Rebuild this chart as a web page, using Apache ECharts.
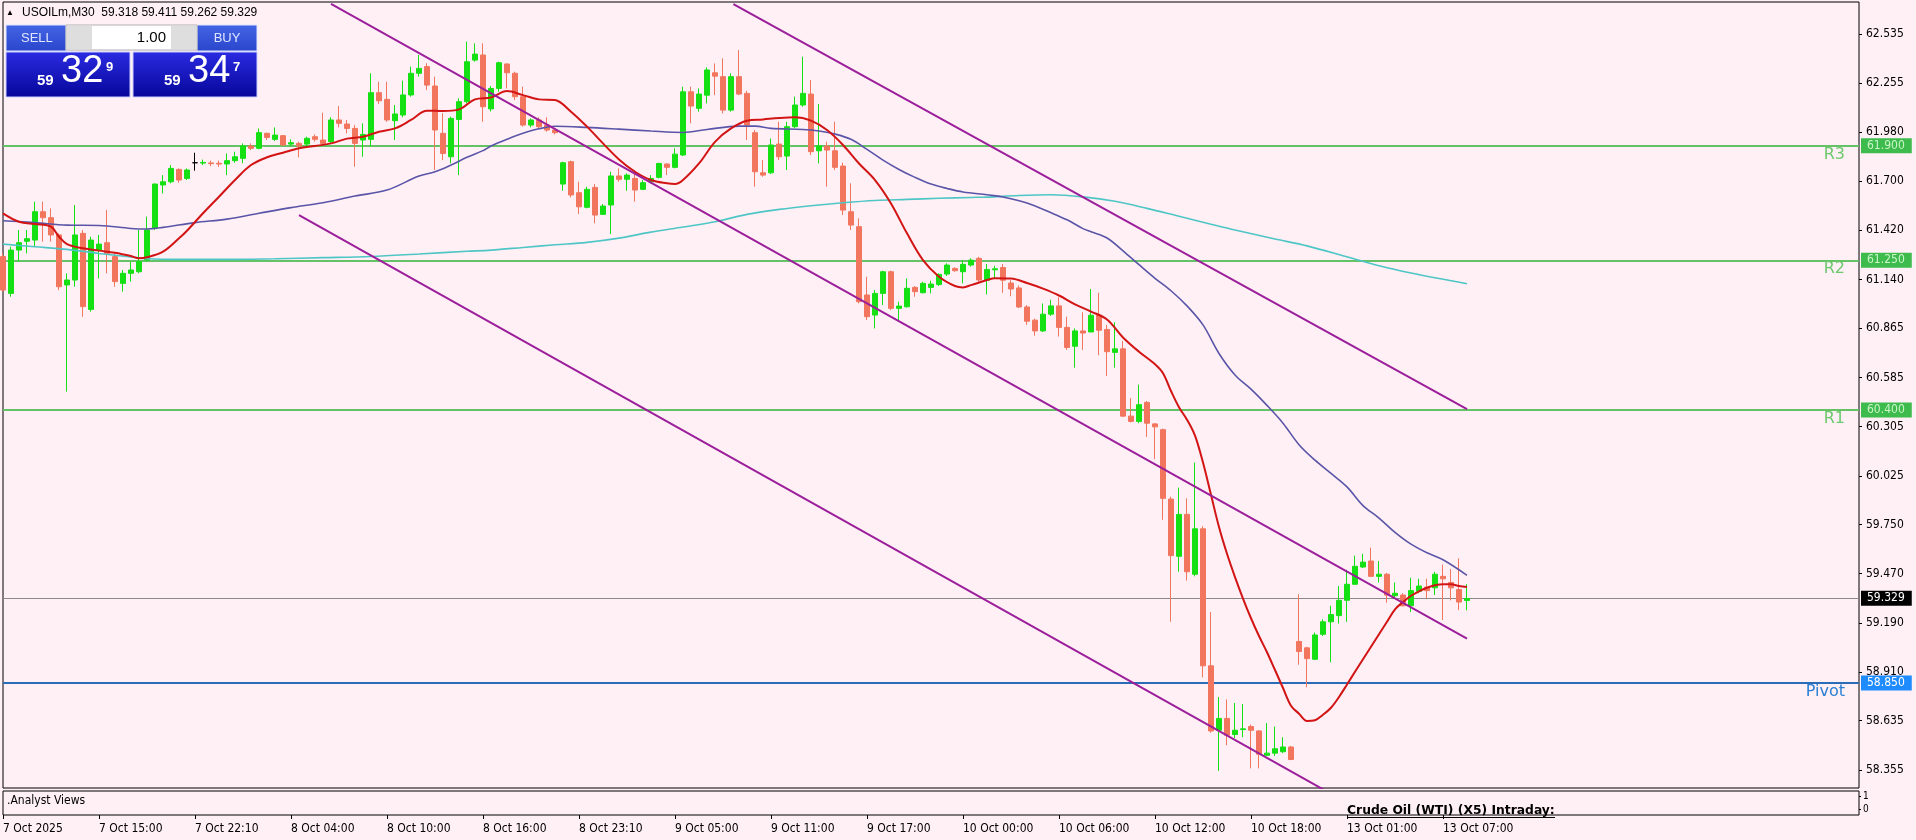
<!DOCTYPE html>
<html><head><meta charset="utf-8">
<script src="https://cdn.jsdelivr.net/npm/echarts@6/dist/echarts.min.js"></script>
<style>html,body{margin:0;padding:0;background:#fff0f5;overflow:hidden}#chart{width:1916px;height:840px}</style>
</head><body><div id="chart"></div>
<script>
// ---------------- DATA ----------------
const symbolName = 'USOILm,M30';
const bidPrice = 59.329;
const askPrice = 59.347;
const lotSize = '1.00';
const timeLabels = ['7 Oct 2025','7 Oct 15:00','7 Oct 22:10','8 Oct 04:00','8 Oct 10:00','8 Oct 16:00','8 Oct 23:10','9 Oct 05:00','9 Oct 11:00','9 Oct 17:00','10 Oct 00:00','10 Oct 06:00','10 Oct 12:00','10 Oct 18:00','13 Oct 01:00','13 Oct 07:00'];
const yTickValues = [62.535,62.255,61.980,61.700,61.420,61.140,60.865,60.585,60.305,60.025,59.750,59.470,59.190,58.910,58.635,58.355];
const levelNames = ['R3','R2','R1','Pivot'];
const levelValues = [61.900,61.250,60.400,58.850];
const emptyBarsRight = 49;

// bars: [open, high, low, close]
const barsOct7 = [
[61.271,61.289,61.072,61.081],[61.062,61.327,61.043,61.308],[61.308,61.422,61.242,61.350],[61.358,61.422,61.289,61.373],
[61.365,61.583,61.327,61.526],[61.526,61.583,61.356,61.492],[61.492,61.545,61.356,61.394],[61.394,61.403,61.081,61.100],
[61.110,61.176,60.504,61.138],[61.138,61.564,61.100,61.394],[61.403,61.422,60.930,60.987],[60.971,61.384,60.958,61.365],
[61.308,61.394,61.147,61.342],[61.350,61.536,61.176,61.289],[61.271,61.289,61.100,61.129],[61.119,61.195,61.072,61.176],
[61.176,61.242,61.129,61.195],[61.185,61.422,61.176,61.242],[61.252,61.498,61.242,61.422],[61.431,61.687,61.422,61.683],
[61.678,61.734,61.630,61.696],[61.696,61.791,61.687,61.772],[61.766,61.772,61.691,61.706],[61.715,61.772,61.706,61.763],
[61.804,61.861,61.759,61.804],[61.802,61.822,61.791,61.806],[61.803,61.816,61.785,61.799],[61.801,61.816,61.781,61.797]
];
const barsOct8 = [
[61.797,61.857,61.734,61.816],[61.816,61.867,61.804,61.838],[61.829,61.914,61.801,61.899],[61.899,61.914,61.876,61.886],
[61.886,61.999,61.880,61.975],[61.971,61.975,61.933,61.948],[61.937,62.005,61.927,61.961],[61.958,61.961,61.899,61.905],
[61.910,61.937,61.899,61.918],[61.914,61.924,61.835,61.899],[61.910,61.952,61.895,61.943],[61.952,61.965,61.924,61.937],
[61.933,62.088,61.905,61.914],[61.924,62.062,61.914,62.047],[62.047,62.126,62.005,62.028],[62.024,62.047,61.971,61.999],
[61.999,62.018,61.782,61.914],[61.933,62.028,61.838,61.965],[61.937,62.312,61.895,62.202],[62.202,62.264,62.138,62.156],
[62.164,62.264,62.037,62.047],[62.043,62.132,61.933,62.081],[62.075,62.270,62.062,62.189],[62.189,62.350,62.179,62.312],
[62.312,62.416,62.293,62.340],[62.350,62.369,62.217,62.245],[62.240,62.293,61.763,61.990],[61.971,62.085,61.819,61.857],
[61.838,62.066,61.801,62.056],[62.050,62.170,61.734,62.151],[62.151,62.492,62.141,62.378],[62.387,62.482,62.378,62.421],
[62.416,62.482,62.037,62.122],[62.110,62.240,62.095,62.226],[62.226,62.378,62.207,62.372],[62.365,62.368,62.226,62.315],
[62.312,62.321,62.160,62.179],[62.179,62.236,62.009,62.018],[62.018,62.056,62.005,62.047],[62.047,62.062,61.999,62.009],
[62.018,62.062,61.980,61.990],[61.990,61.999,61.965,61.975],[61.683,61.810,61.645,61.804],[61.810,61.816,61.607,61.621],
[61.634,61.696,61.513,61.554],[61.551,61.668,61.545,61.653]
];
const barsOct9 = [
[61.664,61.683,61.460,61.507],[61.511,61.570,61.507,61.558],[61.564,61.753,61.399,61.729],[61.729,61.772,61.696,61.710],
[61.710,61.744,61.645,61.734],[61.715,61.763,61.583,61.649],[61.653,61.706,61.649,61.691],[61.696,61.734,61.687,61.715],
[61.721,61.804,61.715,61.800],[61.797,61.800,61.734,61.778],[61.778,61.886,61.772,61.853],[61.848,62.236,61.842,62.207],
[62.207,62.236,62.028,62.126],[62.113,62.226,62.094,62.194],[62.188,62.346,62.141,62.331],[62.315,62.368,62.188,62.296],
[62.293,62.397,62.084,62.103],[62.103,62.312,62.094,62.293],[62.293,62.444,62.188,62.194],[62.198,62.213,61.933,62.018],
[61.975,61.990,61.668,61.753],[61.747,61.819,61.725,61.734],[61.747,61.942,61.740,61.905],[61.910,62.037,61.819,61.838],
[61.842,62.037,61.763,62.009],[62.009,62.179,62.000,62.132],[62.132,62.406,62.122,62.198],[62.194,62.274,61.848,61.867],
[61.872,62.137,61.800,61.899],[61.899,61.923,61.668,61.876],[61.872,62.037,61.763,61.778],[61.785,61.804,61.507,61.535],
[61.526,61.687,61.422,61.450],[61.441,61.488,61.005,61.015],[61.053,61.157,60.911,60.930],[60.939,61.081,60.863,61.062],
[61.062,61.191,60.996,61.185],[61.185,61.191,60.967,60.977],[60.977,61.015,60.911,60.990],[60.986,61.147,60.982,61.091],
[61.096,61.104,61.043,61.072],[61.066,61.128,61.062,61.119],[61.096,61.134,61.062,61.115],[61.113,61.176,61.104,61.170],
[61.172,61.233,61.161,61.223],[61.204,61.210,61.185,61.191]
];
const barsOct10 = [
[61.185,61.251,61.119,61.227],[61.223,61.261,61.214,61.251],[61.261,61.270,61.128,61.138],[61.137,61.229,61.056,61.198],
[61.196,61.219,61.148,61.202],[61.209,61.229,61.066,61.137],[61.121,61.137,61.046,61.087],[61.093,61.107,60.979,60.985],
[60.985,60.995,60.883,60.904],[60.910,60.918,60.822,60.849],[60.849,61.005,60.843,60.944],[60.944,61.026,60.934,60.991],
[60.991,61.040,60.817,60.869],[60.869,60.930,60.741,60.755],[60.762,60.863,60.640,60.849],[60.849,60.955,60.741,60.837],
[60.843,61.087,60.843,60.938],[60.938,61.066,60.711,60.853],[60.857,60.883,60.593,60.731],[60.727,60.898,60.640,60.747],
[60.747,60.792,60.361,60.365],[60.365,60.467,60.329,60.335],[60.335,60.544,60.325,60.430],[60.443,60.451,60.247,60.325],
[60.321,60.325,60.121,60.304],[60.288,60.294,59.776,59.898],[59.894,59.908,59.197,59.573],[59.569,59.959,59.481,59.807],
[59.807,59.898,59.431,59.481],[59.467,60.101,59.455,59.725],[59.725,59.740,58.882,58.947],[58.947,59.252,58.567,58.577],
[58.581,58.770,58.350,58.648],[58.648,58.756,58.496,58.553],[58.557,58.736,58.537,58.581],[58.585,58.730,58.541,58.589],
[58.602,58.614,58.364,58.581],[58.577,58.581,58.364,58.445],[58.439,58.622,58.435,58.451],[58.451,58.602,58.435,58.476],
[58.459,58.541,58.451,58.486],[58.486,58.492,58.411,58.415]
];
const barsOct13 = [
[59.085,59.353,58.953,59.028],[59.049,59.055,58.825,58.988],[58.984,59.136,58.980,59.122],[59.126,59.211,59.116,59.197],
[59.197,59.288,58.967,59.238],[59.232,59.400,59.187,59.319],[59.319,59.492,59.197,59.410],[59.410,59.573,59.406,59.512],
[59.508,59.583,59.502,59.536],[59.542,59.618,59.451,59.455],[59.455,59.542,59.420,59.467],[59.467,59.475,59.305,59.349],
[59.345,59.420,59.329,59.359],[59.349,59.359,59.284,59.288],[59.288,59.447,59.252,59.374],[59.370,59.441,59.359,59.400],
[59.394,59.441,59.329,59.374],[59.390,59.481,59.349,59.467],[59.455,59.522,59.207,59.441],[59.420,59.496,59.319,59.390],
[59.380,59.557,59.264,59.309],[59.318,59.411,59.262,59.329]
];

// moving averages: [bar index, price]
const maFast = [[0,61.517],[2,61.469],[4,61.456],[6,61.441],[7,61.384],[8,61.342],[10,61.318],[12,61.305],[14,61.293],[16,61.274],[17,61.261],[18,61.267],[20,61.299],[22,61.375],[23,61.418],[25,61.517],[27,61.611],[29,61.706],[31,61.791],[33,61.835],[35,61.861],[37,61.886],[39,61.899],[41,61.914],[43,61.941],[45,61.952],[47,61.980],[49,61.999],[51,62.047],[53,62.100],[55,62.098],[57,62.107],[59,62.164],[61,62.175],[63,62.211],[65,62.188],[67,62.164],[69,62.160],[71,62.094],[73,62.009],[75,61.914],[77,61.823],[79,61.753],[81,61.706],[83,61.687],[84,61.683],[85,61.706],[87,61.800],[89,61.923],[91,61.999],[93,62.043],[95,62.050],[97,62.058],[99,62.062],[101,62.043],[103,61.990],[105,61.905],[107,61.800],[109,61.706],[111,61.573],[113,61.403],[115,61.251],[117,61.157],[119,61.104],[120,61.096],[121,61.109],[123,61.138],[124,61.148],[126,61.146],[128,61.121],[130,61.089],[132,61.050],[134,61.000],[136,60.959],[138,60.914],[140,60.812],[142,60.731],[144,60.660],[145,60.609],[146,60.508],[147,60.416],[148,60.345],[149,60.254],[150,60.101],[151,59.918],[152,59.735],[153,59.583],[154,59.451],[155,59.329],[156,59.217],[157,59.116],[158,59.024],[159,58.923],[160,58.821],[161,58.720],[162,58.675],[163,58.634],[164,58.638],[165,58.669],[166,58.709],[167,58.770],[168,58.841],[169,58.913],[170,58.984],[171,59.055],[172,59.126],[173,59.197],[174,59.268],[175,59.309],[176,59.345],[177,59.370],[178,59.390],[179,59.404],[180,59.410],[181,59.410],[182,59.400],[183,59.394]];
const maMid = [[0,61.475],[4,61.464],[8,61.450],[12,61.448],[16,61.431],[18,61.428],[20,61.437],[24,61.464],[28,61.484],[32,61.517],[36,61.549],[40,61.577],[44,61.615],[48,61.649],[52,61.729],[54,61.753],[56,61.791],[58,61.835],[60,61.873],[61,61.899],[63,61.937],[65,61.971],[67,61.997],[69,62.011],[73,62.005],[77,61.995],[81,61.984],[85,61.976],[88,61.993],[92,62.012],[94,62.012],[96,61.999],[100,61.993],[102,61.984],[104,61.967],[106,61.937],[108,61.880],[110,61.819],[112,61.766],[114,61.721],[116,61.683],[118,61.658],[120,61.638],[123,61.622],[125,61.610],[128,61.575],[131,61.520],[133,61.480],[135,61.430],[136,61.412],[138,61.377],[140,61.304],[142,61.225],[144,61.148],[146,61.077],[148,60.991],[150,60.883],[152,60.721],[154,60.599],[156,60.518],[158,60.426],[160,60.325],[162,60.203],[164,60.115],[166,60.040],[168,59.963],[170,59.857],[172,59.786],[174,59.705],[176,59.638],[178,59.589],[180,59.549],[183,59.461]];
const maSlow = [[0,61.342],[4,61.327],[8,61.312],[12,61.289],[16,61.269],[18,61.259],[22,61.255],[28,61.255],[34,61.259],[40,61.265],[46,61.272],[52,61.286],[58,61.301],[61,61.308],[65,61.323],[69,61.338],[73,61.352],[77,61.376],[81,61.410],[85,61.439],[89,61.469],[93,61.511],[97,61.539],[101,61.560],[105,61.577],[109,61.590],[113,61.596],[117,61.602],[121,61.607],[123,61.609],[127,61.618],[131,61.622],[135,61.610],[139,61.585],[143,61.545],[147,61.500],[151,61.455],[154,61.422],[159,61.371],[163,61.332],[168,61.270],[172,61.219],[176,61.178],[183,61.117]];

// channel trend lines: [bar index, price] end points
const channelUpper = [[91.3,62.705],[183,60.405]];
const channelMiddle = [[41,62.706],[183,59.101]];
const channelLower = [[37,61.507],[183,57.787]];

// ---------------- BUILD ----------------
const Y_MIN = 58.253, Y_MAX = 62.717;
const FONT = 'Liberation Sans, Arial, sans-serif';
const AXFONT = '"DejaVu Sans Condensed", "Liberation Sans", sans-serif';
const BULL = '#14e014', BEAR = '#f2755d';
const bars = [].concat(barsOct7, barsOct8, barsOct9, barsOct10, barsOct13);
const N = bars.length + emptyBarsRight;
const cats = Array.from({length: N}, (_, i) => String(i));
const candleData = bars.map(b => {
  const item = {value: [b[0], b[3], b[2], b[1]]};
  if (b[0] === b[3]) item.itemStyle = {color:'#000', color0:'#000', borderColor:'#000', borderColor0:'#000'};
  return item;
});
const last = bars[bars.length - 1];
const lastClose = last[3];

const markData = [];
levelNames.forEach((name, k) => {
  const v = levelValues[k];
  const piv = name === 'Pivot';
  const lc = piv ? '#2b6cb8' : '#5dbf5d';
  const lw = piv ? 2 : 1.5;
  markData.push({yAxis: v, lineStyle: {color: lc, width: lw, type: 'solid'},
    label: {show: true, position: 'end', distance: 2, formatter: v.toFixed(3),
      backgroundColor: piv ? '#1e8cff' : '#3dbb4c', color: piv ? '#ffffff' : '#c9f5c9',
      padding: [2, 7, 1, 6], fontSize: 12, fontFamily: AXFONT}});
  markData.push({yAxis: v, lineStyle: {color: lc, width: lw, type: 'solid'},
    label: {show: true, position: 'insideEndBottom', distance: [14, 1], formatter: name,
      color: piv ? '#2a7fd4' : '#6cc86c', fontSize: 16, fontFamily: '"DejaVu Sans", sans-serif'}});
});
markData.push({yAxis: lastClose, lineStyle: {color: '#8a8a8a', width: 1, type: 'solid'},
  label: {show: true, position: 'end', distance: 2, formatter: lastClose.toFixed(3),
    backgroundColor: '#000', color: '#fff', padding: [2, 7, 1, 6], fontSize: 12, fontFamily: AXFONT}});

function maSeries(data, color, width) {
  return {type: 'line', xAxisIndex: 1, yAxisIndex: 0, data: data, showSymbol: false, smooth: 0.35,
    lineStyle: {color: color, width: width}, silent: true, z: 4, clip: true};
}
function trendSeries(data) {
  return {type: 'line', xAxisIndex: 1, yAxisIndex: 0, data: data, showSymbol: false,
    lineStyle: {color: '#9b1e9b', width: 2}, silent: true, z: 5, clip: true};
}

const bidStr = bidPrice.toFixed(3), askStr = askPrice.toFixed(3);
function txt(x, y, s, size, color, opts) {
  opts = opts || {};
  return {type: 'text', x: x, y: y, z: 100, silent: true, style: {
    text: s, fill: color, fontSize: size, fontFamily: opts.family || FONT, fontWeight: opts.weight || 'normal',
    align: opts.align || 'left', textAlign: opts.align || 'left',
    verticalAlign: opts.va || 'middle', textVerticalAlign: opts.va || 'middle'}};
}
function grad(c1, c2) {
  return new echarts.graphic.LinearGradient(0, 0, 0, 1, [{offset: 0, color: c1}, {offset: 1, color: c2}]);
}
// sub-window caption: fit bold DejaVu Sans to the caption width seen in the reference
const subTitle = 'Crude Oil (WTI) (X5) Intraday:';
const SUBFONT = '"DejaVu Sans", "Liberation Sans", sans-serif';
const SUB_TARGET_W = 208;
const mctx = document.createElement('canvas').getContext('2d');
mctx.font = 'bold 12px "DejaVu Sans", "Liberation Sans", sans-serif';
const subSize = Math.min(13, Math.max(10, 12 * SUB_TARGET_W / mctx.measureText(subTitle).width));
mctx.font = 'bold ' + subSize + 'px "DejaVu Sans", "Liberation Sans", sans-serif';
const subW = Math.round(mctx.measureText(subTitle).width);

const graphics = [
  txt(6, 13, '▲', 8, '#000'),
  txt(22, 13, symbolName + '  ' + [last[0], last[1], last[2], last[3]].map(v => v.toFixed(3)).join(' '), 12, '#000'),
  // top buttons
  {type:'rect', z:100, shape:{x:6, y:25, width:60, height:26}, style:{fill: grad('#4464e4','#2a46cc'), stroke:'#dfe6ff', lineWidth:1}},
  {type:'rect', z:100, shape:{x:197, y:25, width:60, height:26}, style:{fill: grad('#4464e4','#2a46cc'), stroke:'#dfe6ff', lineWidth:1}},
  {type:'rect', z:100, shape:{x:66, y:25, width:131, height:25}, style:{fill:'#ffffff', stroke:'#b0b0b0', lineWidth:1}},
  {type:'rect', z:101, shape:{x:67, y:26, width:25, height:23}, style:{fill:'#dedede'}},
  {type:'rect', z:101, shape:{x:171, y:26, width:25, height:23}, style:{fill:'#dedede'}},
  txt(79, 38, '▼', 9, '#111', {align:'center', family:'"DejaVu Sans", sans-serif'}),
  txt(183, 37, '▲', 9, '#111', {align:'center', family:'"DejaVu Sans", sans-serif'}),
  txt(166, 38, lotSize, 15, '#000', {align:'right'}),
  txt(21, 38, 'SELL', 13, '#dfe6ff'),
  txt(227, 38, 'BUY', 13, '#dfe6ff', {align:'center'}),
  // price boxes
  {type:'rect', z:100, shape:{x:6, y:52, width:124, height:45}, style:{fill: grad('#2b2be2','#06069a'), stroke:'#c8ccff', lineWidth:1}},
  {type:'rect', z:100, shape:{x:133, y:52, width:124, height:45}, style:{fill: grad('#2b2be2','#06069a'), stroke:'#c8ccff', lineWidth:1}},
  txt(37, 88, bidStr.slice(0, 2), 15, '#fff', {va:'bottom', weight:'bold'}),
  txt(61, 91, bidStr.slice(3, 5), 38, '#fff', {va:'bottom'}),
  txt(106, 61, bidStr.slice(5, 6), 13, '#fff', {va:'top', weight:'bold'}),
  txt(164, 88, askStr.slice(0, 2), 15, '#fff', {va:'bottom', weight:'bold'}),
  txt(188, 91, askStr.slice(3, 5), 38, '#fff', {va:'bottom'}),
  txt(233, 61, askStr.slice(5, 6), 13, '#fff', {va:'top', weight:'bold'}),
  // sub window texts
  txt(7, 801, '.Analyst Views', 12, '#000', {family: AXFONT}),
  txt(1347, 811, subTitle, subSize, '#000', {weight:'bold', family: SUBFONT}),
  {type:'line', z:100, shape:{x1:1347, y1:817.5, x2:1347 + subW, y2:817.5}, style:{stroke:'#000', lineWidth:1}}
];

const chart = echarts.init(document.getElementById('chart'), null, {renderer: 'canvas'});
chart.setOption({
  animation: false,
  backgroundColor: '#fff0f5',
  textStyle: {fontFamily: FONT},
  grid: [
    {left: 3, top: 2, width: 1856, height: 786, show: true, borderColor: '#000', borderWidth: 1, backgroundColor: 'transparent'},
    {left: 3, top: 791, width: 1856, height: 24, show: true, borderColor: '#000', borderWidth: 1, backgroundColor: 'transparent'}
  ],
  xAxis: [
    {type: 'category', gridIndex: 0, data: cats, boundaryGap: false, axisLine: {show: false, onZero: false}, axisTick: {show: false}, axisLabel: {show: false}, splitLine: {show: false}},
    {type: 'value', gridIndex: 0, min: 0, max: N - 1, show: false, axisLine: {onZero: false}, axisTick: {show: false}, axisLabel: {show: false}, splitLine: {show: false}},
    {type: 'category', gridIndex: 1, data: cats, boundaryGap: false, position: 'bottom',
      axisLine: {show: false, onZero: false},
      axisTick: {show: true, length: 4, interval: (i) => i % 12 === 0 && i / 12 < timeLabels.length, lineStyle: {color: '#000'}},
      axisLabel: {show: true, interval: (i) => i % 12 === 0 && i / 12 < timeLabels.length, align: 'left', margin: 8,
        color: '#000', fontSize: 12, fontFamily: AXFONT,
        formatter: (v) => { const i = +v; return (i % 12 === 0 && i / 12 < timeLabels.length) ? timeLabels[i / 12] : ''; }},
      splitLine: {show: false}}
  ],
  yAxis: [
    {type: 'value', gridIndex: 0, position: 'right', min: Y_MIN, max: Y_MAX, scale: true,
      axisLine: {show: false, onZero: false}, splitLine: {show: false}, minorTick: {show: false},
      axisTick: {show: true, length: 3, customValues: yTickValues, lineStyle: {color: '#000'}},
      axisLabel: {show: true, customValues: yTickValues, formatter: (v) => v.toFixed(3), color: '#000', fontSize: 12, fontFamily: AXFONT, margin: 7}},
    {type: 'value', gridIndex: 1, position: 'right', min: -0.4, max: 1.4,
      axisLine: {show: false, onZero: false}, splitLine: {show: false},
      axisTick: {show: true, length: 2, customValues: [0, 1], lineStyle: {color: '#000'}},
      axisLabel: {show: true, customValues: [0, 1], color: '#000', fontSize: 10, fontFamily: AXFONT, margin: 4}}
  ],
  series: [
    {type: 'candlestick', xAxisIndex: 0, yAxisIndex: 0, data: candleData, barWidth: 5, z: 3,
      itemStyle: {color: BULL, color0: BEAR, borderColor: BULL, borderColor0: BEAR, borderWidth: 1},
      markLine: {symbol: ['none', 'none'], silent: true, animation: false, data: markData, z: 1}},
    maSeries(maSlow, '#4fc6c6', 1.6),
    maSeries(maMid, '#5a55a8', 1.6),
    maSeries(maFast, '#d21414', 2),
    trendSeries(channelUpper),
    trendSeries(channelMiddle),
    trendSeries(channelLower)
  ],
  graphic: graphics
});
</script>
</body></html>
